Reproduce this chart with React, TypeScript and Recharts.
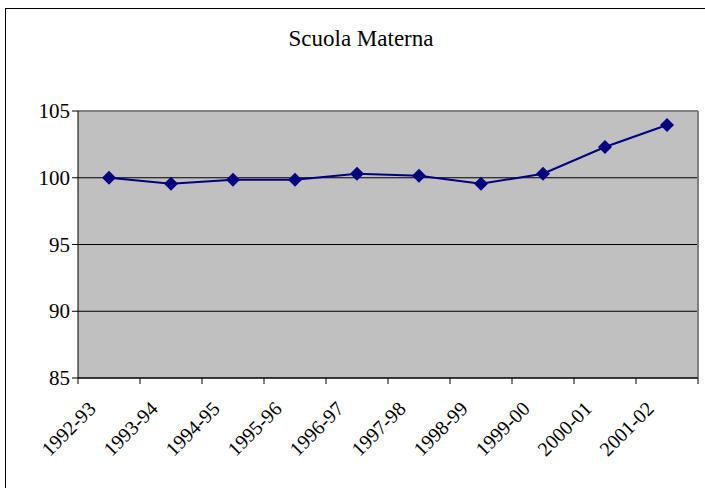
import { LineChart, Line, XAxis, YAxis, CartesianGrid } from "recharts";

const years = [
  "1992-93",
  "1993-94",
  "1994-95",
  "1995-96",
  "1996-97",
  "1997-98",
  "1998-99",
  "1999-00",
  "2000-01",
  "2001-02"
];
const indexValues = [100.0, 99.55, 99.85, 99.85, 100.3, 100.15, 99.55, 100.3, 102.3, 103.95];
const yTicks = [85, 90, 95, 100, 105];

const chartData = years.map((year, i) => ({ year, value: indexValues[i] }));

const FONT = "Liberation Serif";

function Diamond({ cx, cy }: { cx?: number; cy?: number }) {
  if (cx == null || cy == null) return null;
  const r = 7;
  return (
    <polygon
      points={`${cx},${cy - r} ${cx + r},${cy} ${cx},${cy + r} ${cx - r},${cy}`}
      fill="#000080"
    />
  );
}

// category label plus Excel-style tick marks on the band boundaries
function YearTick(props: any) {
  const { x = 0, y = 0, payload, index = 0, width = 0, visibleTicksCount = 1 } = props;
  const half = width / visibleTicksCount / 2;
  const ax = x - 12;
  const ay = y + 32;
  return (
    <g>
      <line x1={x - half} y1={y} x2={x - half} y2={y + 6} stroke="#000" />
      {index === visibleTicksCount - 1 && (
        <line x1={x + half} y1={y} x2={x + half} y2={y + 6} stroke="#000" />
      )}
      <text
        x={ax}
        y={ay}
        textAnchor="end"
        fontFamily={FONT}
        fontSize={20}
        fill="#000"
        transform={`rotate(-45, ${ax}, ${ay})`}
      >
        {payload?.value}
      </text>
    </g>
  );
}

function YTick(props: any) {
  const { x = 0, y = 0, payload } = props;
  return (
    <text x={x} y={y} dy={7} textAnchor="end" fontFamily={FONT} fontSize={21} fill="#000">
      {payload?.value}
    </text>
  );
}

export default function App() {
  return (
    <div
      style={{
        position: "absolute",
        left: 0,
        top: 0,
        width: 705,
        height: 488,
        background: "#fff",
        overflow: "hidden",
        fontFamily: FONT
      }}
    >
      {/* outer chart frame, right and bottom edges fall outside the picture */}
      <div
        style={{
          position: "absolute",
          left: 5,
          top: 8,
          width: 710,
          height: 500,
          border: "1px solid #000",
          boxSizing: "border-box"
        }}
      />
      <div
        style={{
          position: "absolute",
          left: 0,
          top: 26,
          width: 722,
          textAlign: "center",
          fontSize: 23,
          lineHeight: "26px",
          color: "#000"
        }}
      >
        Scuola Materna
      </div>
      <div style={{ position: "absolute", left: 0, top: 0 }}>
        <LineChart
          width={705}
          height={488}
          data={chartData}
          margin={{ top: 111, right: 7, left: 8, bottom: 10 }}
        >
          <CartesianGrid vertical={false} fill="#C0C0C0" stroke="#000" strokeWidth={1} />
          {/* grey plot-area frame on the top and right sides */}
          <CartesianGrid
            fill="none"
            stroke="#808080"
            strokeWidth={2}
            horizontalCoordinatesGenerator={({ offset }: any) => [offset.top]}
            verticalCoordinatesGenerator={({ offset }: any) => [offset.left + offset.width]}
          />
          <XAxis
            dataKey="year"
            interval={0}
            height={100}
            padding={{ left: 31, right: 31 }}
            tickSize={0}
            tickMargin={0}
            axisLine={{ stroke: "#000" }}
            tickLine={false}
            tick={<YearTick />}
          />
          <YAxis
            domain={[85, 105]}
            ticks={yTicks}
            width={70}
            tickSize={6}
            axisLine={{ stroke: "#000" }}
            tickLine={{ stroke: "#000" }}
            tick={<YTick />}
          />
          <Line
            dataKey="value"
            stroke="#000080"
            strokeWidth={2}
            dot={<Diamond />}
            activeDot={false}
            isAnimationActive={false}
          />
        </LineChart>
      </div>
    </div>
  );
}
